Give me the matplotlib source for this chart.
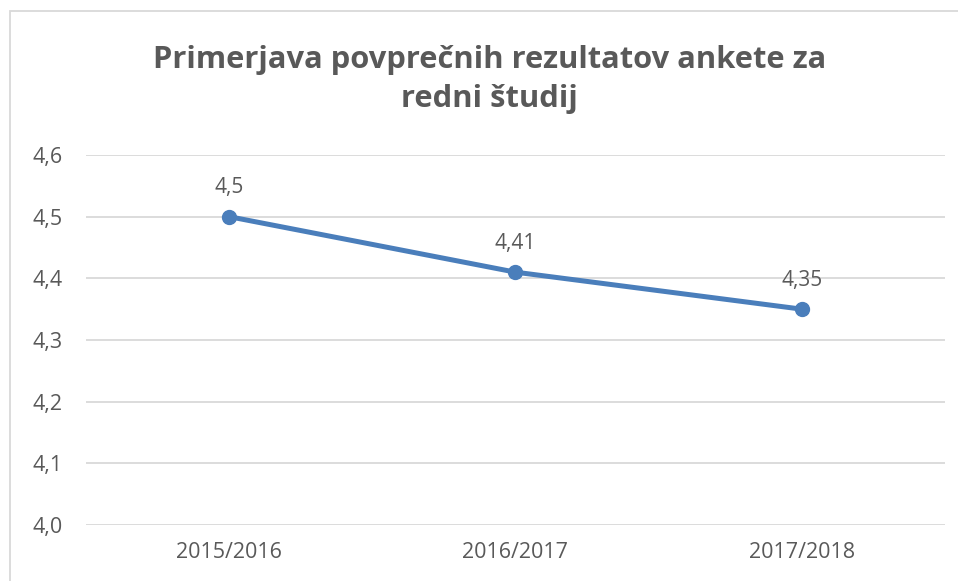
import matplotlib

matplotlib.use("Agg")
import matplotlib.pyplot as plt
from matplotlib.patches import Rectangle

years = ["2015/2016", "2016/2017", "2017/2018"]
scores = [4.5, 4.41, 4.35]
labels = ["4,5", "4,41", "4,35"]
yticks = [4.0, 4.1, 4.2, 4.3, 4.4, 4.5, 4.6]

TEXT = "#595959"
BLUE = "#4A7EBB"

plt.rcParams["font.family"] = ["Open Sans", "DejaVu Sans"]

fig = plt.figure(figsize=(9.58, 5.81), dpi=100)
ax = fig.add_axes([0.0898, 0.0964, 0.8966, 0.6368])

x = range(len(years))
ax.plot(x, scores, color=BLUE, linewidth=3.6, marker="o", markersize=10,
        solid_capstyle="round", zorder=3)
for xi, v, lab in zip(x, scores, labels):
    ax.annotate(lab, (xi, v), xytext=(0, 21), textcoords="offset points",
                ha="center", va="center", fontsize=15, color=TEXT)

ax.set_xlim(-0.5, len(years) - 0.5)
ax.set_ylim(4.0, 4.6)
ax.set_yticks(yticks)
ax.set_yticklabels([f"{t:.1f}".replace(".", ",") for t in yticks])
ax.set_xticks(list(x))
ax.set_xticklabels(years)
ax.tick_params(length=0, labelsize=15.5, colors=TEXT)
ax.tick_params(axis="y", pad=17)
ax.tick_params(axis="x", pad=12)
ax.grid(axis="y", color="#D9D9D9", linewidth=1.3)
ax.set_axisbelow(True)
for s in ax.spines.values():
    s.set_visible(False)

fig.text(0.511, 0.863, "Primerjava povprečnih rezultatov ankete za\nredni študij",
         ha="center", va="center", fontsize=22.2, fontweight="bold", color=TEXT,
         linespacing=1.42)

# chart border (cropped at right and bottom)
fig.patches.append(Rectangle((10 / 958, -0.1), 1.1, 1 - 11 / 581 + 0.1,
                             transform=fig.transFigure, fill=False,
                             edgecolor="#D9D9D9", linewidth=1.3))

fig.savefig("out.png", dpi=100)
